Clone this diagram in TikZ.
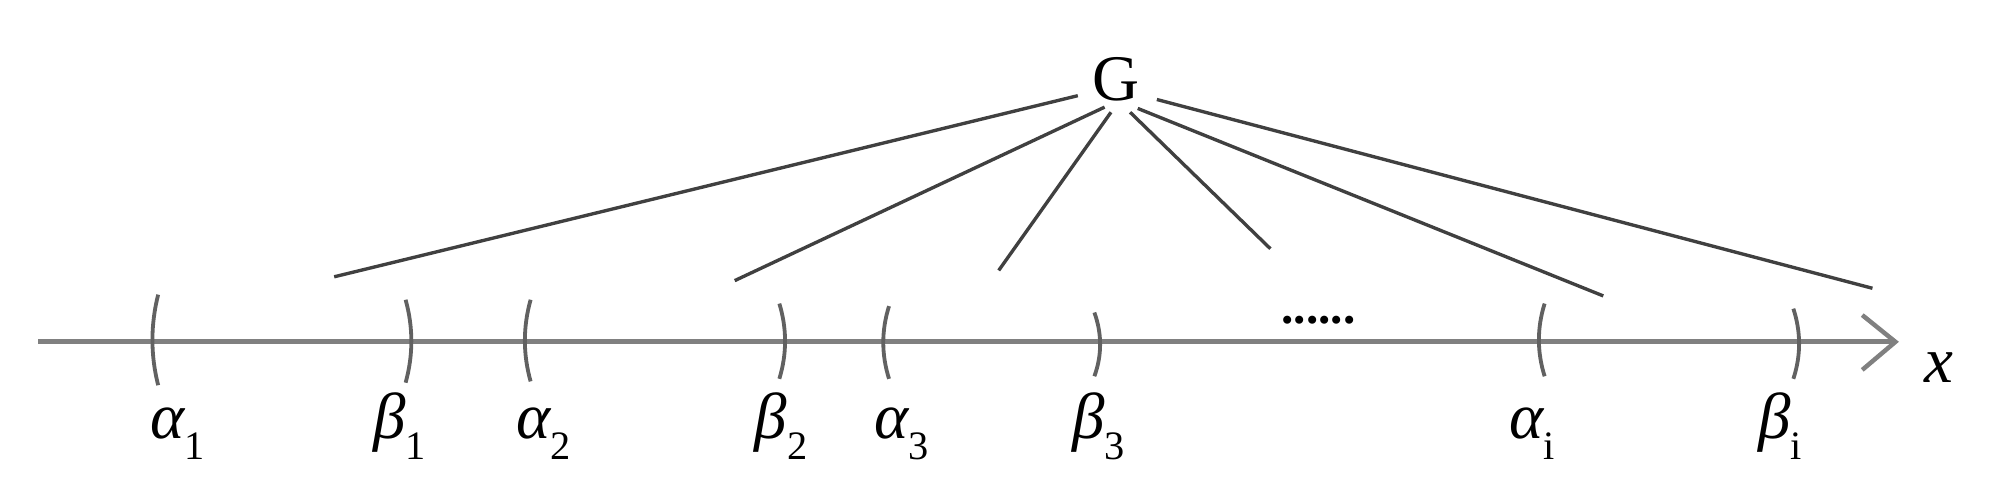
\documentclass[tikz,border=0pt]{standalone}
\usepackage{fontspec}
\setmainfont{Liberation Serif}
\newcommand\mylab[2]{{\fontsize{14.5}{14.5}\selectfont\itshape #1}\raisebox{-4.6pt}{\fontsize{9}{9}\selectfont #2}}
\begin{document}
\begin{tikzpicture}[x=0.01cm,y=-0.01cm,
  axisline/.style={draw=black!50,line width=1.15pt},
  bracket/.style={draw=black!62,line width=0.85pt},
  conn/.style={draw=black!75,line width=0.75pt},
  lbl/.style={inner sep=0pt,anchor=base west}]
\useasboundingbox (0,0) rectangle (1568,384);
% axis
\coordinate (ax0) at (30,268);
\coordinate (tip) at (1486,268);
\coordinate (arA) at (1460,247);
\coordinate (arB) at (1460,290);
\draw[axisline] (ax0) -- (tip);
\draw[axisline,line width=1pt] (arA) -- (tip) -- (arB);
% brackets "(" and ")"
\newcommand\lbr[3]{\draw[bracket] (#1+4,#2) .. controls (#1-2,{#2+(#3-#2)/3}) and (#1-2,{#2+2*(#3-#2)/3}) .. (#1+4,#3);}
\newcommand\rbr[3]{\draw[bracket] (#1-4,#2) .. controls (#1+2,{#2+(#3-#2)/3}) and (#1+2,{#2+2*(#3-#2)/3}) .. (#1-4,#3);}
\lbr{120}{231}{302}
\rbr{322}{235}{300}
\lbr{412}{235}{299}
\rbr{615}{238}{297}
\lbr{693}{240}{297}
\rbr{862}{245}{295}
\lbr{1207}{238}{295}
\rbr{1410}{242}{297}
% dots
\node[inner sep=0pt,anchor=base west] (dots) at (1004,254) {\fontsize{11}{11}\selectfont\bfseries ......};
% G
\node[inner sep=0pt] (G) at (875,62) {\fontsize{14.5}{14.5}\selectfont G};
\coordinate (s1) at (845,75);  \coordinate (e1) at (262,217);
\coordinate (s2) at (866,84);  \coordinate (e2) at (576,220);
\coordinate (s3) at (871,88);  \coordinate (e3) at (783,212);
\coordinate (s4) at (886,88);  \coordinate (e4) at (996,195);
\coordinate (s5) at (892,85);  \coordinate (e5) at (1257,232);
\coordinate (s6) at (907,78);  \coordinate (e6) at (1468,226);
\foreach \i in {1,...,6} {\draw[conn] (s\i) -- (e\i);}
% labels
\node[lbl] (la1) at (117,344) {\mylab{α}{1}};
\node[lbl] (lb1) at (292,344) {\mylab{β}{1}};
\node[lbl] (la2) at (404,344) {\mylab{α}{2}};
\node[lbl] (lb2) at (591,344) {\mylab{β}{2}};
\node[lbl] (la3) at (685,344) {\mylab{α}{3}};
\node[lbl] (lb3) at (840,344) {\mylab{β}{3}};
\node[lbl] (lai) at (1183,344) {\mylab{α}{i}};
\node[lbl] (lbi) at (1378,344) {\mylab{β}{i}};
\node[lbl] (xl) at (1508,300) {\fontsize{14.5}{14.5}\selectfont\itshape x};
\end{tikzpicture}
\end{document}
